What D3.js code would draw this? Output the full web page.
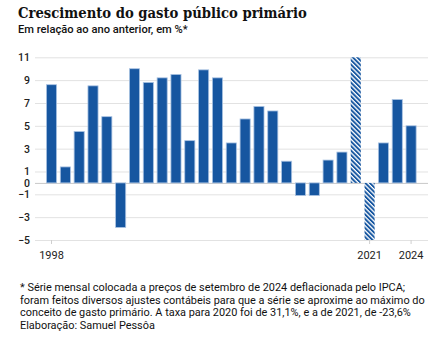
<!DOCTYPE html>
<html lang="pt">
<head>
    <meta charset="UTF-8">
    <title>Crescimento do gasto público primário</title>
    <script src="https://d3js.org/d3.v7.min.js"></script>
    <style>
        body { margin: 0; background: #fff; }
        svg { display: block; }
        .tick text { font-family: Roboto, "Noto Sans", sans-serif; font-size: 11px; fill: #222; }
        .grid .tick text { font-size: 10.5px; }
        .grid .tick line { stroke: #e2e2e2; }
        .grid .tick.zero line { stroke: #c8c8c8; }
        .xaxis .tick line { stroke: #cfcfcf; }
        .domain { display: none; }
    </style>
</head>
<body>
<svg id="chart"></svg>
<script>
    const width = 441, height = 341;

    // data
    const years = ["1998", "1999", "2000", "2001", "2002", "2003", "2004", "2005", "2006",
        "2007", "2008", "2009", "2010", "2011", "2012", "2013", "2014", "2015", "2016",
        "2017", "2018", "2019", "2020", "2021", "2022", "2023", "2024"];
    const values = [8.6, 1.4, 4.5, 8.5, 5.8, -3.9, 10.0, 8.8, 9.2, 9.5, 3.7, 9.9, 9.2,
        3.5, 5.6, 6.7, 6.3, 1.9, -1.1, -1.1, 2.0, 2.7, 31.1, -23.6, 3.5, 7.3, 5.0];
    const hatchedYears = ["2020", "2021"];  // off the scale, drawn clipped and hatched
    const yTicks = [11, 9, 7, 5, 3, 1, 0, -1, -3, -5];
    const xTicks = ["1998", "2021", "2024"];

    const title = "Crescimento do gasto público primário";
    const subtitle = "Em relação ao ano anterior, em %*";
    const notes = [
        "* Série mensal colocada a preços de setembro de 2024 deflacionada pelo IPCA;",
        "foram feitos diversos ajustes contábeis para que a série se aproxime ao máximo do",
        "conceito de gasto primário. A taxa para 2020 foi de 31,1%, e a de 2021, de -23,6%",
        "Elaboração: Samuel Pessôa"
    ];

    const blue = "#1656a0";
    const gridLeft = 35, gridRight = 428;

    const svg = d3.select("#chart").attr("width", width).attr("height", height);
    svg.append("rect").attr("width", width).attr("height", height).attr("fill", "#fff");

    const defs = svg.append("defs");
    const pat = defs.append("pattern")
        .attr("id", "hatch")
        .attr("patternUnits", "userSpaceOnUse")
        .attr("width", 3.2).attr("height", 3.2)
        .attr("patternTransform", "rotate(-45)");
    pat.append("rect").attr("width", 3.2).attr("height", 3.2).attr("fill", "#fff");
    pat.append("rect").attr("width", 1.9).attr("height", 3.2).attr("fill", blue);

    const x = d3.scaleBand()
        .domain(years)
        .range([44.6, 418])
        .paddingInner(0.27)
        .paddingOuter(0.135);

    const y = d3.scaleLinear()
        .domain([-5, 11])
        .range([240, 57.3]);

    // grid + y labels
    const gy = svg.append("g")
        .attr("class", "grid")
        .attr("transform", `translate(${gridLeft},0)`)
        .call(d3.axisLeft(y).tickValues(yTicks).tickSize(-(gridRight - gridLeft)).tickPadding(5));
    gy.selectAll(".tick").classed("zero", d => d === 0);
    gy.selectAll(".tick text").style("font-weight", 500);

    // x axis
    svg.append("g")
        .attr("class", "xaxis")
        .attr("transform", `translate(0,${y(-5)})`)
        .call(d3.axisBottom(x).tickValues(xTicks).tickSize(4).tickPadding(7));

    // bars
    const clampV = v => Math.max(-5, Math.min(11, v));
    svg.append("g")
        .selectAll("rect")
        .data(years.map((yr, i) => ({ year: yr, value: values[i] })))
        .join("rect")
        .attr("x", d => x(d.year))
        .attr("width", x.bandwidth())
        .attr("y", d => y(Math.max(0, clampV(d.value))))
        .attr("height", d => Math.abs(y(clampV(d.value)) - y(0)))
        .attr("fill", d => hatchedYears.includes(d.year) ? "url(#hatch)" : blue)
        .attr("stroke", d => hatchedYears.includes(d.year) ? "none" : "#a9c2e2")
        .attr("stroke-width", 0.8);

    // fit a text element to a target width
    function fit(sel, target) {
        const w = sel.node().getComputedTextLength();
        const fs = parseFloat(sel.style("font-size"));
        sel.style("font-size", (fs * target / w) + "px");
    }

    const t = svg.append("text")
        .attr("x", 18).attr("y", 17.5)
        .style("font-family", "'DejaVu Serif Condensed', 'DejaVu Serif', serif")
        .style("font-stretch", "condensed")
        .style("font-weight", "bold")
        .style("font-size", "14px")
        .attr("fill", "#111")
        .text(title);
    fit(t, 289);

    const st = svg.append("text")
        .attr("x", 18).attr("y", 33)
        .style("font-family", "Roboto, sans-serif")
        .style("font-weight", 500)
        .style("font-size", "11px")
        .attr("fill", "#111")
        .text(subtitle);
    fit(st, 170);

    const nt = svg.append("g")
        .style("font-family", "Roboto, sans-serif")
        .style("font-size", "11px")
        .attr("fill", "#111");
    const lines = nt.selectAll("text")
        .data(notes)
        .join("text")
        .attr("x", 20)
        .attr("y", (d, i) => 291 + i * 12.5)
        .text(d => d);
    const w = lines.nodes()[1].getComputedTextLength();
    nt.style("font-size", (11 * 405 / w) + "px");
</script>
</body>
</html>
